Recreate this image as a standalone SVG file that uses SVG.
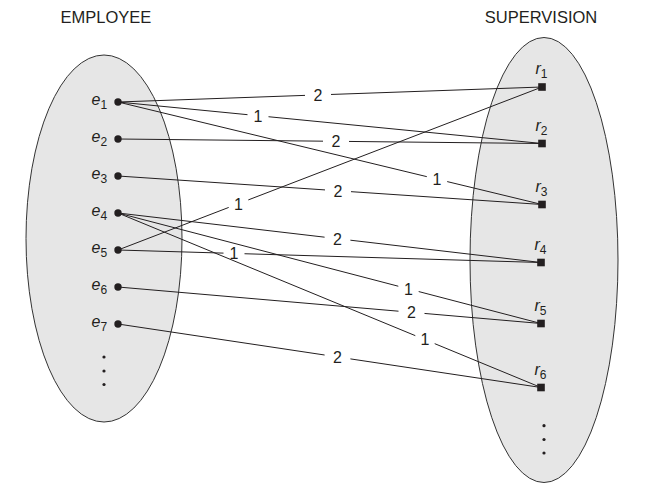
<svg xmlns="http://www.w3.org/2000/svg" width="648" height="495" viewBox="0 0 648 495">
  <style>
    .set { fill: #e6e6e6; stroke: #333; stroke-width: 1; }
    .title { font-family: "Liberation Sans", Arial, sans-serif; font-size: 16.5px; fill: #231f20; text-anchor: middle; }
    .name { font-family: "Liberation Sans", Arial, sans-serif; font-size: 16px; font-style: italic; fill: #231f20; }
    .name tspan.sub { font-size: 12px; font-style: normal; }
    .edge { fill: none; stroke: #231f20; stroke-width: 1; }
    .num { font-family: "Liberation Sans", Arial, sans-serif; font-size: 16px; fill: #231f20; text-anchor: middle; }
    .dot { fill: #231f20; }
  </style>

  <!-- entity and relationship sets -->
  <g id="employee-set">
    <ellipse class="set" cx="104" cy="238.5" rx="78" ry="183.5"/>
    <text class="title" x="106" y="23">EMPLOYEE</text>
  </g>
  <g id="supervision-set">
    <ellipse class="set" cx="544" cy="260" rx="74" ry="222.5"/>
    <text class="title" x="541" y="23">SUPERVISION</text>
  </g>

  <!-- role connectors, each broken around its role label -->
  <g id="connectors">
    <path class="edge" d="M118 102 L305 95.38 M331 94.46 L542 87"/>
    <path class="edge" d="M118 102 L247.5 114.68 M268.5 116.73 L542 143.5"/>
    <path class="edge" d="M118 139 L323 141.18 M349 141.45 L542 143.5"/>
    <path class="edge" d="M118 102 L426.8 176.65 M447.2 181.58 L542 204.5"/>
    <path class="edge" d="M118 176 L325 189.91 M351 191.66 L542 204.5"/>
    <path class="edge" d="M118 250 L228.7 207.44 M248.3 199.91 L542 87"/>
    <path class="edge" d="M118 213 L324.6 237.18 M350.4 240.2 L541 262.5"/>
    <path class="edge" d="M118 250 L223.5 253.12 M244.5 253.74 L541 262.5"/>
    <path class="edge" d="M118 213 L398.3 286.22 M418.7 291.55 L541 323.5"/>
    <path class="edge" d="M118 287 L398.5 311.2 M424.5 313.45 L541 323.5"/>
    <path class="edge" d="M118 213 L415.3 335.65 M434.7 343.65 L541 387.5"/>
    <path class="edge" d="M118 324 L324.6 355.01 M350.4 358.89 L541 387.5"/>

    <text class="num" x="318" y="100.7">2</text>
    <text class="num" x="258" y="121.5">1</text>
    <text class="num" x="336" y="147.1">2</text>
    <text class="num" x="437" y="184.9">1</text>
    <text class="num" x="338" y="196.6">2</text>
    <text class="num" x="238.5" y="209.5">1</text>
    <text class="num" x="337.5" y="244.5">2</text>
    <text class="num" x="234" y="259.2">1</text>
    <text class="num" x="408.5" y="294.7">1</text>
    <text class="num" x="411.5" y="318.1">2</text>
    <text class="num" x="425" y="345.2">1</text>
    <text class="num" x="337.5" y="362.8">2</text>
  </g>

  <!-- employee entities -->
  <g id="e1"><circle class="dot" cx="118" cy="102" r="3.7"/><text class="name" x="91.5" y="105">e<tspan class="sub" dy="3.5">1</tspan></text></g>
  <g id="e2"><circle class="dot" cx="118" cy="139" r="3.7"/><text class="name" x="91.5" y="142">e<tspan class="sub" dy="3.5">2</tspan></text></g>
  <g id="e3"><circle class="dot" cx="118" cy="176" r="3.7"/><text class="name" x="91.5" y="179">e<tspan class="sub" dy="3.5">3</tspan></text></g>
  <g id="e4"><circle class="dot" cx="118" cy="213" r="3.7"/><text class="name" x="91.5" y="216">e<tspan class="sub" dy="3.5">4</tspan></text></g>
  <g id="e5"><circle class="dot" cx="118" cy="250" r="3.7"/><text class="name" x="91.5" y="253">e<tspan class="sub" dy="3.5">5</tspan></text></g>
  <g id="e6"><circle class="dot" cx="118" cy="287" r="3.7"/><text class="name" x="91.5" y="290">e<tspan class="sub" dy="3.5">6</tspan></text></g>
  <g id="e7"><circle class="dot" cx="118" cy="324" r="3.7"/><text class="name" x="91.5" y="327">e<tspan class="sub" dy="3.5">7</tspan></text></g>
  <g id="e-more">
    <circle class="dot" cx="104" cy="357" r="1.6"/>
    <circle class="dot" cx="104" cy="371" r="1.6"/>
    <circle class="dot" cx="104" cy="384.5" r="1.6"/>
  </g>

  <!-- supervision relationship instances -->
  <g id="r1"><rect class="dot" x="538.2" y="83.2" width="7.6" height="7.6"/><text class="name" x="535.5" y="74">r<tspan class="sub" dy="4">1</tspan></text></g>
  <g id="r2"><rect class="dot" x="538.2" y="139.7" width="7.6" height="7.6"/><text class="name" x="535.5" y="130.5">r<tspan class="sub" dy="4">2</tspan></text></g>
  <g id="r3"><rect class="dot" x="538.2" y="200.7" width="7.6" height="7.6"/><text class="name" x="535.5" y="191.5">r<tspan class="sub" dy="4">3</tspan></text></g>
  <g id="r4"><rect class="dot" x="537.2" y="258.7" width="7.6" height="7.6"/><text class="name" x="534.5" y="249.5">r<tspan class="sub" dy="4">4</tspan></text></g>
  <g id="r5"><rect class="dot" x="537.2" y="319.7" width="7.6" height="7.6"/><text class="name" x="534.5" y="310.5">r<tspan class="sub" dy="4">5</tspan></text></g>
  <g id="r6"><rect class="dot" x="537.2" y="383.7" width="7.6" height="7.6"/><text class="name" x="534.5" y="374.5">r<tspan class="sub" dy="4">6</tspan></text></g>
  <g id="r-more">
    <circle class="dot" cx="544" cy="425.7" r="1.6"/>
    <circle class="dot" cx="544" cy="439.5" r="1.6"/>
    <circle class="dot" cx="544" cy="453" r="1.6"/>
  </g>
</svg>
